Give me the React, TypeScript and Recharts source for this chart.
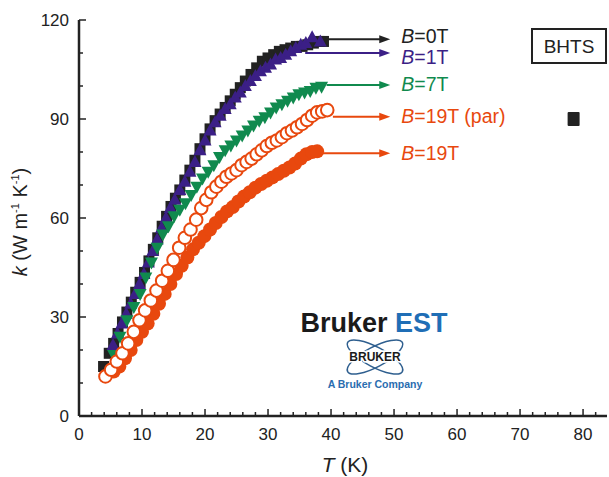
import { ScatterChart, Scatter, XAxis, YAxis, ReferenceLine } from 'recharts';

const INK = '#222222';
const PURPLE = '#3b1f86';
const GREEN = '#108a4e';
const ORANGE = '#e8480e';
const FONT = 'Liberation Sans, Arial, sans-serif';

// B = 0T, black squares
const T0 = [3.9, 4.8, 5.5, 6.2, 6.9, 7.6, 8.3, 9.0, 9.7, 10.4, 11.1, 11.8, 12.5, 13.2, 13.9, 14.6, 15.3, 16.0, 16.8, 17.6, 18.4, 19.2, 20.0, 20.8, 21.6, 22.4, 23.2, 24.0, 24.8, 25.6, 26.4, 27.3, 28.2, 29.1, 30.0, 30.9, 31.8, 32.7, 33.6, 34.5, 35.4, 36.3, 37.2, 38.1, 38.8];
const K0 = [15, 19, 22, 25, 28.5, 31.5, 34.5, 37.5, 40.5, 43.5, 47, 50.5, 54, 57.5, 60.5, 63.5, 66, 68.5, 71.5, 74.5, 77.5, 81, 84, 87, 89.5, 91.5, 93.5, 95.5, 97.5, 99.5, 101.5, 103.5, 105.5, 107.5, 108.5, 109.5, 110.5, 111, 111.5, 112, 112, 112.5, 113, 113.5, 113.5];

// B = 1T, purple up-triangles
const T1 = [5.4, 6.1, 6.8, 7.5, 8.2, 8.9, 9.6, 10.3, 11.0, 11.7, 12.4, 13.1, 13.8, 14.5, 15.2, 16.0, 16.8, 17.6, 18.4, 19.2, 20.0, 20.8, 21.6, 22.4, 23.2, 24.0, 24.8, 25.6, 26.4, 27.2, 28.0, 28.8, 29.6, 30.4, 31.2, 32.0, 32.8, 33.6, 34.4, 35.2, 36.0, 37.0, 38.3];
const K1 = [21.5, 25, 28, 31, 34, 37, 40, 43, 46.5, 50, 53.5, 57, 60, 63, 65.5, 68.5, 71, 74, 77, 80.5, 83.5, 86.5, 89, 91, 93, 94.5, 96.5, 98, 100, 101.5, 103, 104.5, 105.5, 106.5, 108, 108.5, 109.5, 110.5, 111.5, 112.5, 113, 114.8, 113.5];

// B = 7T, green down-triangles
const T7 = [5.5, 6.5, 7.6, 8.7, 9.7, 10.6, 11.5, 12.4, 13.3, 14.2, 15.1, 16.0, 16.9, 17.8, 18.7, 19.6, 20.5, 21.4, 22.3, 23.2, 24.1, 25.0, 25.9, 26.8, 27.7, 28.6, 29.5, 30.4, 31.3, 32.2, 33.1, 34.0, 34.9, 35.8, 36.7, 37.6, 38.5];
const K7 = [18.5, 24, 29, 33, 37, 42, 46.5, 51, 55, 57.5, 60.5, 62.5, 64.5, 67, 69.5, 72, 74, 76, 78.5, 80.5, 82, 83.5, 85, 86.5, 88, 89.5, 90.5, 92, 93.5, 94.5, 95.5, 96.5, 97.5, 98, 98.5, 99.5, 99.8];

// B = 19T (par), open circles
const TP = [4.2, 5.1, 6.0, 6.9, 7.8, 8.7, 9.6, 10.5, 11.4, 12.3, 13.2, 14.1, 15.0, 15.9, 16.8, 17.7, 18.6, 19.4, 20.2, 21.0, 21.8, 22.6, 23.4, 24.2, 25.0, 25.8, 26.6, 27.4, 28.2, 29.0, 29.8, 30.6, 31.4, 32.2, 33.0, 33.8, 34.6, 35.4, 36.2, 37.0, 37.8, 38.6, 39.4];
const KP = [12, 14, 16.5, 19, 22, 25.5, 29, 32, 35, 38, 41, 44, 47.3, 51, 54, 56.5, 59.5, 63, 65.5, 67.8, 69.5, 71, 72.5, 73.5, 74.5, 76, 77, 78, 79.3, 80.5, 81.8, 82.8, 83.5, 84.5, 85.7, 86.5, 87.5, 88.5, 89.7, 91, 92, 92.3, 92.7];

// B = 19T, filled circles
const TF = [5.5, 6.4, 7.3, 8.2, 9.1, 10.0, 10.9, 11.8, 12.7, 13.6, 14.5, 15.4, 16.3, 17.2, 18.1, 19.0, 19.9, 20.8, 21.7, 22.6, 23.5, 24.4, 25.3, 26.2, 27.1, 28.0, 28.9, 29.8, 30.7, 31.6, 32.5, 33.4, 34.3, 35.2, 36.1, 37.0, 37.8];
const KF = [13.5, 15, 17.5, 20, 23, 25.5, 28, 31, 34, 37, 40, 43, 45.5, 48, 50.5, 52.5, 54.5, 56.5, 58.5, 60.3, 62, 63.3, 65, 66.5, 67.8, 69.2, 70.3, 71.3, 72.3, 73.3, 74.3, 75.3, 76.5, 78, 79.3, 80, 80.2];

// lone legend square at the right edge
const T_LONE = [78.5];
const K_LONE = [90];

// annotation arrows
const ARROW_FROM = [39.3, 35.9, 39.3, 40.3, 38.3];
const ARROW_TO = 49.4;
const ARROW_K = [114.2, 110, 100.3, 90.7, 79.6];
const ARROW_LABEL = ['=0T', '=1T', '=7T', '=19T (par)', '=19T'];
const ARROW_COLOR = [INK, PURPLE, GREEN, ORANGE, ORANGE];
const LABEL_SHIFT = [-3, 4, -1, -1, 0];

const X_TICKS = Array.from({ length: 42 }, (_, i) => i * 2);
const Y_TICKS = [0, 10, 20, 30, 40, 50, 60, 70, 80, 90, 100, 110, 120];

const zip = (xs: number[], ys: number[]) => xs.map((x, i) => ({ x, y: ys[i] }));

const Square = ({ cx, cy }: any) => <rect x={cx - 5.5} y={cy - 5.5} width={11} height={11} fill={INK} />;
const BigSquare = ({ cx, cy }: any) => <rect x={cx - 6} y={cy - 7} width={12} height={14} rx={1} fill={INK} />;
const UpTri = ({ cx, cy }: any) => (
  <polygon points={`${cx},${cy - 7} ${cx - 6.5},${cy + 5} ${cx + 6.5},${cy + 5}`} fill={PURPLE} />
);
const DownTri = ({ cx, cy }: any) => (
  <polygon points={`${cx - 6.5},${cy - 5} ${cx + 6.5},${cy - 5} ${cx},${cy + 7}`} fill={GREEN} />
);
const OpenDot = ({ cx, cy }: any) => <circle cx={cx} cy={cy} r={6.3} fill="#fff" stroke={ORANGE} strokeWidth={2} />;
const FullDot = ({ cx, cy }: any) => <circle cx={cx} cy={cy} r={7} fill={ORANGE} />;

const ArrowHead = ({ cx, cy, payload }: any) => (
  <g>
    <polygon points={`${cx},${cy} ${cx - 11},${cy - 4} ${cx - 11},${cy + 4}`} fill={payload.color} />
    <text x={cx + 11} y={cy + payload.shift} dy="0.36em" fontSize={19.5} fontFamily={FONT} fill={payload.color}>
      <tspan fontStyle="italic">B</tspan>
      <tspan>{payload.label}</tspan>
    </text>
  </g>
);

const BottomTick = ({ x, y, payload }: any) => {
  const major = payload.value % 10 === 0;
  return (
    <g>
      <line x1={x} y1={y} x2={x} y2={y - (major ? 7 : 4)} stroke={INK} strokeWidth={1.5} />
      {major && (
        <text x={x} y={y + 24} textAnchor="middle" fontSize={17} fontFamily={FONT} fill={INK}>
          {payload.value}
        </text>
      )}
    </g>
  );
};

const TopTick = ({ x, y, payload }: any) => {
  const major = payload.value % 10 === 0;
  return <line x1={x} y1={y} x2={x} y2={y + (major ? 7 : 4)} stroke={INK} strokeWidth={1.5} />;
};

const LeftTick = ({ x, y, payload }: any) => {
  const major = payload.value % 30 === 0;
  return (
    <g>
      <line x1={x} y1={y} x2={x + (major ? 7 : 4)} y2={y} stroke={INK} strokeWidth={1.5} />
      {major && (
        <text x={x - 10} y={y} dy="0.36em" textAnchor="end" fontSize={17} fontFamily={FONT} fill={INK}>
          {payload.value}
        </text>
      )}
    </g>
  );
};

const RightTick = ({ x, y, payload }: any) => {
  const major = payload.value % 30 === 0;
  return <line x1={x} y1={y} x2={x - (major ? 7 : 4)} y2={y} stroke={INK} strokeWidth={1.5} />;
};

export default function App() {
  const arrows = ARROW_K.map((k, i) => ({
    x: ARROW_TO, y: k, label: ARROW_LABEL[i], color: ARROW_COLOR[i], shift: LABEL_SHIFT[i],
  }));
  return (
    <div style={{ position: 'absolute', left: 0, top: 0, width: 609, height: 477, background: '#fff' }}>
      <ScatterChart width={609} height={477} margin={{ top: 20, right: 2, bottom: 0, left: 0 }}>
        <XAxis type="number" dataKey="x" domain={[0, 83.8]} ticks={X_TICKS} interval={0} height={61}
          allowDataOverflow tickSize={0} tickMargin={0} tickLine={false} tick={BottomTick}
          axisLine={{ stroke: INK, strokeWidth: 2.5 }} />
        <XAxis xAxisId="top" orientation="top" type="number" domain={[0, 83.8]} ticks={X_TICKS} interval={0}
          height={0} tickSize={0} tickMargin={0} tickLine={false} tick={TopTick}
          axisLine={{ stroke: INK, strokeWidth: 1.5 }} />
        <YAxis type="number" dataKey="y" domain={[0, 120]} ticks={Y_TICKS} interval={0} width={79}
          allowDataOverflow tickSize={0} tickMargin={0} tickLine={false} tick={LeftTick}
          axisLine={{ stroke: INK, strokeWidth: 2.5 }} />
        <YAxis yAxisId="right" orientation="right" type="number" domain={[0, 120]} ticks={Y_TICKS} interval={0}
          width={0} tickSize={0} tickMargin={0} tickLine={false} tick={RightTick}
          axisLine={{ stroke: INK, strokeWidth: 1.5 }} />

        {ARROW_K.map((k, i) => (
          <ReferenceLine key={i} segment={[{ x: ARROW_FROM[i], y: k }, { x: ARROW_TO - 1.5, y: k }]}
            stroke={ARROW_COLOR[i]} strokeWidth={2} ifOverflow="visible" />
        ))}

        <Scatter data={zip(T0, K0)} shape={Square} isAnimationActive={false} />
        <Scatter data={zip(T1, K1)} shape={UpTri} isAnimationActive={false} />
        <Scatter data={zip(T7, K7)} shape={DownTri} isAnimationActive={false} />
        <Scatter data={zip(TF, KF)} shape={FullDot} isAnimationActive={false} />
        <Scatter data={zip(TP, KP)} shape={OpenDot} isAnimationActive={false} />
        <Scatter data={zip(T_LONE, K_LONE)} shape={BigSquare} isAnimationActive={false} />
        <Scatter data={arrows} shape={ArrowHead} isAnimationActive={false} />
      </ScatterChart>

      <svg width={609} height={477} style={{ position: 'absolute', left: 0, top: 0, pointerEvents: 'none' }}>
        {/* axis titles */}
        <text transform="translate(27,222) rotate(-90)" textAnchor="middle" fontSize={20} fontFamily={FONT} fill={INK}>
          <tspan fontStyle="italic">k</tspan>
          <tspan> (W m</tspan>
          <tspan dy={-8} fontSize={11}>-1</tspan>
          <tspan dy={8}> K</tspan>
          <tspan dy={-8} fontSize={11}>-1</tspan>
          <tspan dy={8}>)</tspan>
        </text>
        <text x={345} y={472} textAnchor="middle" fontSize={21} fontFamily={FONT} fill={INK}>
          <tspan fontStyle="italic">T</tspan>
          <tspan> (K)</tspan>
        </text>

        {/* sample tag */}
        <rect x={532} y={29} width={74} height={34} fill="#fff" stroke={INK} strokeWidth={2} />
        <text x={569} y={46} dy="0.36em" textAnchor="middle" fontSize={19} fontFamily={FONT} fill={INK}>BHTS</text>

        {/* company logo */}
        <text x={374} y={322} dy="0.36em" textAnchor="middle" fontSize={27} fontWeight="bold" fontFamily={FONT}>
          <tspan fill="#1a1a1a">Bruker </tspan>
          <tspan fill="#1f6eb6">EST</tspan>
        </text>
        <g fill="none" stroke="#2f5f8f" strokeWidth={1.5}>
          <ellipse cx={375} cy={357} rx={31} ry={10} transform="rotate(28 375 357)" />
          <ellipse cx={375} cy={357} rx={31} ry={10} transform="rotate(-28 375 357)" />
        </g>
        <text x={375} y={357} dy="0.36em" textAnchor="middle" fontSize={12} fontWeight="bold" fontFamily={FONT} fill="#1a1a1a"
          stroke="#fff" strokeWidth={3} paintOrder="stroke">BRUKER</text>
        <text x={375} y={384} dy="0.36em" textAnchor="middle" fontSize={10.5} fontWeight="bold" fontFamily={FONT} fill="#2a6db0">
          A Bruker Company
        </text>
      </svg>
    </div>
  );
}
